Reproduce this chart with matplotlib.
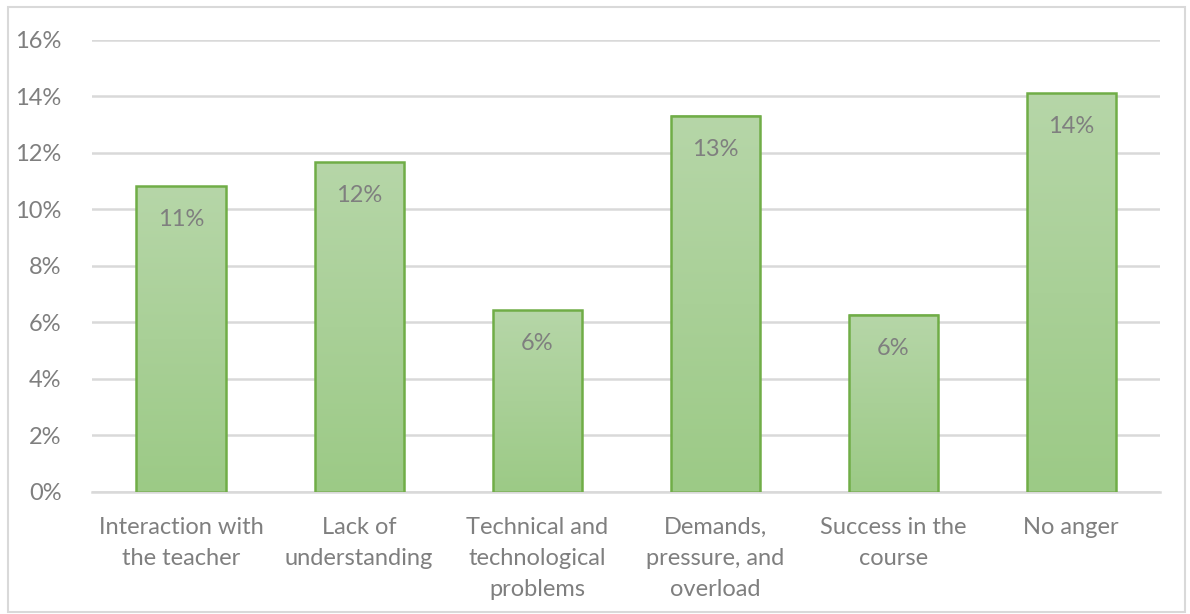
import matplotlib.pyplot as plt
import numpy as np
from matplotlib.colors import LinearSegmentedColormap
from matplotlib.patches import Rectangle

plt.rcParams['font.family'] = ['Lato', 'DejaVu Sans']

categories = [
    "Interaction with\nthe teacher",
    "Lack of\nunderstanding",
    "Technical and\ntechnological\nproblems",
    "Demands,\npressure, and\noverload",
    "Success in the\ncourse",
    "No anger",
]
shares = [10.83, 11.68, 6.44, 13.31, 6.27, 14.12]  # percent
y_ticks = [0, 2, 4, 6, 8, 10, 12, 14, 16]

text_grey = '#7f7f7f'
grid_grey = '#d9d9d9'
edge_green = '#70ad47'
grad = LinearSegmentedColormap.from_list('bar_grad', ['#9cca86', '#b6d6a8'])

fig = plt.figure(figsize=(11.9, 6.14), dpi=100)
ax = fig.add_axes([0.0773, 0.1987, 0.8977, 0.7362])

# outer chart border
fig.patches.append(Rectangle((8 / 1190, 2 / 614), 1177 / 1190, 605 / 614,
                             transform=fig.transFigure, fill=False,
                             edgecolor=grid_grey, linewidth=1.5))

x = np.arange(len(categories))
width = 0.5
gradient = np.linspace(0, 1, 256).reshape(-1, 1)

bars = ax.bar(x, shares, width=width, facecolor='none', edgecolor=edge_green,
              linewidth=1.8, zorder=3)
for bar, val in zip(bars, shares):
    x0 = bar.get_x()
    ax.imshow(gradient, cmap=grad, aspect='auto', origin='lower',
              extent=(x0, x0 + width, 0, val), zorder=2)
    ax.text(bar.get_x() + width / 2, val - 1.2, f"{val:.0f}%",
            ha='center', va='center', fontsize=17, color=text_grey, zorder=4)

ax.set_xlim(-0.5, len(categories) - 0.5)
ax.set_ylim(0, 16)
ax.set_yticks(y_ticks)
ax.set_yticklabels([f"{t}%" for t in y_ticks])
ax.set_xticks(x)
ax.set_xticklabels(categories, linespacing=1.58)

ax.grid(axis='y', color=grid_grey, linewidth=1.8, zorder=0)
ax.set_axisbelow(True)
for side in ['top', 'right', 'left']:
    ax.spines[side].set_visible(False)
ax.spines['bottom'].set_color(grid_grey)
ax.spines['bottom'].set_linewidth(1.8)
ax.tick_params(axis='both', length=0, labelsize=17, colors=text_grey)
ax.tick_params(axis='y', pad=22)
ax.tick_params(axis='x', pad=18)

fig.savefig('out.png', dpi=100)
